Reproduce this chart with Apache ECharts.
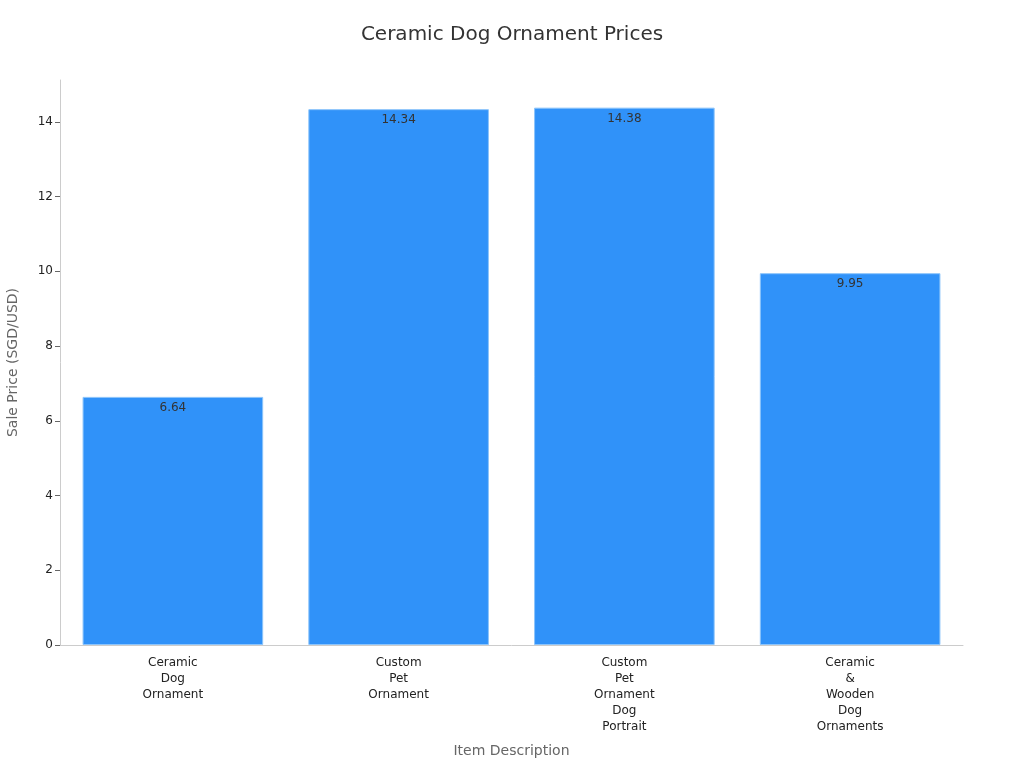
<!DOCTYPE html>
<html><head><meta charset="utf-8">
<script src="https://cdn.jsdelivr.net/npm/echarts@6/dist/echarts.min.js"></script>
<style>html,body{margin:0;padding:0;background:#fff}#c{width:1024px;height:768px}</style>
</head><body><div id="c"></div>
<script>
const categories = ["Ceramic\nDog\nOrnament", "Custom\nPet\nOrnament", "Custom\nPet\nOrnament\nDog\nPortrait", "Ceramic\n&\nWooden\nDog\nOrnaments"];
const prices = [6.64, 14.34, 14.38, 9.95];
const yTicks = [0, 2, 4, 6, 8, 10, 12, 14];

const chart = echarts.init(document.getElementById('c'));
chart.setOption({
  animation: false,
  textStyle: {fontFamily: 'DejaVu Sans'},
  title: {text: 'Ceramic Dog Ornament Prices', left: 'center', top: 20,
    textStyle: {fontSize: 20, fontWeight: 'normal', color: '#333', fontFamily: 'DejaVu Sans'}},
  grid: {left: 60, right: 61, top: 80, bottom: 123, containLabel: false, outerBoundsMode: 'none'},
  xAxis: {
    type: 'category', data: categories,
    name: 'Item Description', nameLocation: 'middle', nameGap: 99,
    nameTextStyle: {fontSize: 14, color: '#666'},
    axisLine: {lineStyle: {color: '#ccc'}},
    axisTick: {alignWithLabel: true, lineStyle: {color: '#666'}},
    axisLabel: {fontSize: 12, color: '#222', lineHeight: 16, interval: 0, margin: 10}
  },
  yAxis: {
    type: 'value', min: 0, max: 15.12, interval: 2,
    name: 'Sale Price (SGD/USD)', nameLocation: 'middle', nameGap: 40,
    nameTextStyle: {fontSize: 14, color: '#666'},
    axisLine: {show: true, lineStyle: {color: '#ccc'}},
    axisTick: {show: true, customValues: yTicks, lineStyle: {color: '#666'}},
    axisLabel: {fontSize: 12, color: '#222', customValues: yTicks, margin: 7},
    splitLine: {show: false}
  },
  series: [{
    type: 'bar', data: prices, barCategoryGap: '20%',
    itemStyle: {color: '#3092f9', borderColor: '#8cc4fb', borderWidth: 1},
    label: {show: true, position: 'insideTop', color: '#333', fontSize: 12, offset: [0, 0]}
  }]
});
</script></body></html>
